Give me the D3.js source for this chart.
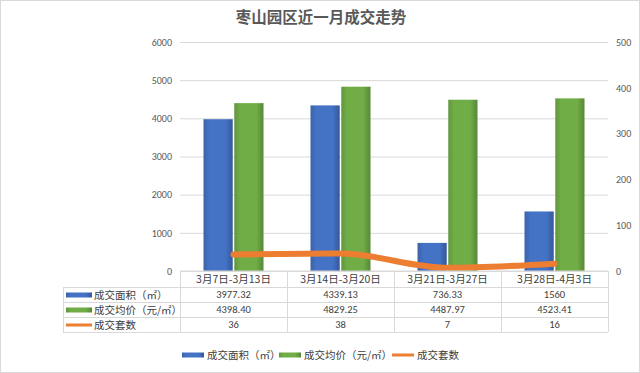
<!DOCTYPE html>
<html>
<head>
<meta charset="utf-8">
<script src="https://cdn.jsdelivr.net/npm/d3@7"></script>
<style>
  body { margin: 0; background: #fff; }
  svg { display: block; font-family: "Microsoft YaHei", "Noto Sans CJK SC", sans-serif; }
</style>
</head>
<body>
<script>
// data
const categories = ["3月7日-3月13日", "3月14日-3月20日", "3月21日-3月27日", "3月28日-4月3日"];
const areaValues = [3977.32, 4339.13, 736.33, 1560];
const areaLabels = ["3977.32", "4339.13", "736.33", "1560"];
const priceValues = [4398.40, 4829.25, 4487.97, 4523.41];
const priceLabels = ["4398.40", "4829.25", "4487.97", "4523.41"];
const countValues = [36, 38, 7, 16];
const seriesNames = ["成交面积（㎡）", "成交均价（元/㎡）", "成交套数"];
const leftTicks = [0, 1000, 2000, 3000, 4000, 5000, 6000];
const rightTicks = [0, 100, 200, 300, 400, 500];

const W = 640, H = 373;
const margin = { top: 42, left: 180, right: 32, bottom: 102 };
const plotW = W - margin.left - margin.right;   // 428
const plotH = H - margin.top - margin.bottom;   // 229

const colors = { blue: "#4472C4", green: "#70AD47", orange: "#ED7D31" };
const numFont = "Calibri, 'Liberation Sans', sans-serif";

const svg = d3.select("body").append("svg").attr("width", W).attr("height", H);

// gradients, bars have a bit of shading on the sides
const defs = svg.append("defs");
function grad(id, c) {
    const g = defs.append("linearGradient").attr("id", id).attr("x1", 0).attr("x2", 1).attr("y1", 0).attr("y2", 0);
    const base = d3.color(c);
    g.append("stop").attr("offset", "0%").attr("stop-color", base.darker(0.4));
    g.append("stop").attr("offset", "20%").attr("stop-color", base);
    g.append("stop").attr("offset", "75%").attr("stop-color", base);
    g.append("stop").attr("offset", "100%").attr("stop-color", base.darker(0.7));
}
grad("gBlue", colors.blue);
grad("gGreen", colors.green);

svg.append("rect").attr("x", 0.5).attr("y", 0.5).attr("width", W - 1).attr("height", H - 1)
    .attr("fill", "#fff").attr("stroke", "#d9d9d9");

svg.append("text").attr("x", 321).attr("y", 23).attr("text-anchor", "middle")
    .attr("font-size", 15.5).attr("font-weight", 600).attr("fill", "#595959")
    .text("枣山园区近一月成交走势");

const x = d3.scaleBand().domain(categories).range([margin.left, margin.left + plotW]);
const xs = d3.scaleBand().domain(["area", "price"]).range([-30, 30]).paddingInner(0.05);
const yL = d3.scaleLinear().domain([0, 6000]).range([margin.top + plotH, margin.top]);
const yR = d3.scaleLinear().domain([0, 500]).range([margin.top + plotH, margin.top]);

// gridlines + left axis
const gl = svg.append("g")
    .attr("transform", `translate(${margin.left},0)`)
    .call(d3.axisLeft(yL).tickValues(leftTicks).tickFormat(d3.format("d")).tickSize(-plotW).tickPadding(8));
gl.select(".domain").remove();
gl.selectAll(".tick line").attr("stroke", "#d9d9d9");
gl.selectAll(".tick text").attr("fill", "#595959").attr("font-size", 10).attr("font-family", numFont);

const gr = svg.append("g")
    .attr("transform", `translate(${margin.left + plotW},0)`)
    .call(d3.axisRight(yR).tickValues(rightTicks).tickFormat(d3.format("d")).tickSize(0).tickPadding(8));
gr.select(".domain").remove();
gr.selectAll(".tick text").attr("fill", "#595959").attr("font-size", 10).attr("font-family", numFont);

// bars
const groups = svg.selectAll(".cat").data(categories).enter().append("g")
    .attr("transform", d => `translate(${x(d) + x.bandwidth() / 2},0)`);
groups.append("rect")
    .attr("x", xs("area")).attr("width", xs.bandwidth())
    .attr("y", (d, i) => yL(areaValues[i]))
    .attr("height", (d, i) => yL(0) - yL(areaValues[i]))
    .attr("fill", "url(#gBlue)");
groups.append("rect")
    .attr("x", xs("price")).attr("width", xs.bandwidth())
    .attr("y", (d, i) => yL(priceValues[i]))
    .attr("height", (d, i) => yL(0) - yL(priceValues[i]))
    .attr("fill", "url(#gGreen)");

// count line
const line = d3.line()
    .x((d, i) => x(categories[i]) + x.bandwidth() / 2)
    .y(d => yR(d))
    .curve(d3.curveMonotoneX);
svg.append("path").datum(countValues).attr("d", line)
    .attr("fill", "none").attr("stroke", colors.orange).attr("stroke-width", 6)
    .attr("stroke-linecap", "round");

// data table
const rowY = [271, 287, 302, 317, 332];
const tableLeft = 63;
const tb = svg.append("g").attr("stroke", "#d9d9d9").attr("fill", "none");
tb.append("line").attr("x1", margin.left).attr("x2", margin.left + plotW).attr("y1", rowY[0]).attr("y2", rowY[0]);
for (let r = 1; r < rowY.length; r++) {
    tb.append("line").attr("x1", tableLeft).attr("x2", margin.left + plotW).attr("y1", rowY[r] + 0.5).attr("y2", rowY[r] + 0.5);
}
tb.append("line").attr("x1", tableLeft + 0.5).attr("x2", tableLeft + 0.5).attr("y1", rowY[1]).attr("y2", rowY[4]);
categories.concat([null]).forEach((c, i) => {
    const xx = c ? x(c) : margin.left + plotW;
    tb.append("line").attr("x1", xx + 0.5).attr("x2", xx + 0.5).attr("y1", rowY[0]).attr("y2", rowY[4]);
});

const txt = svg.append("g").attr("font-size", 10.5).attr("fill", "#404040").attr("text-anchor", "middle");
categories.forEach((c, i) => {
    const cx = x(c) + x.bandwidth() / 2;
    txt.append("text").attr("x", cx).attr("y", 283).text(c);
    txt.append("text").attr("x", cx).attr("y", 298).attr("font-family", numFont).text(areaLabels[i]);
    txt.append("text").attr("x", cx).attr("y", 313).attr("font-family", numFont).text(priceLabels[i]);
    txt.append("text").attr("x", cx).attr("y", 328).attr("font-family", numFont).text(countValues[i]);
});

// series keys
function key(g, type, x0, yc, w) {
    if (type === 2) {
        g.append("line").attr("x1", x0).attr("x2", x0 + w).attr("y1", yc).attr("y2", yc)
            .attr("stroke", colors.orange).attr("stroke-width", 3);
    } else {
        g.append("rect").attr("x", x0).attr("y", yc - 2.5).attr("width", w).attr("height", 5)
            .attr("fill", type === 0 ? "url(#gBlue)" : "url(#gGreen)");
    }
}
const tk = svg.append("g");
seriesNames.forEach((n, i) => {
    const yc = (rowY[i + 1] + rowY[i + 2]) / 2 + 0.5;
    key(tk, i, 66, yc, 26);
    tk.append("text").attr("x", 94).attr("y", yc + 4).attr("font-size", 10.5).attr("fill", "#404040").text(n);
});

// bottom legend
const lg = svg.append("g");
const legX = [182, 279, 392];
seriesNames.forEach((n, i) => {
    key(lg, i, legX[i], 355, 22);
    lg.append("text").attr("x", legX[i] + 25).attr("y", 359).attr("font-size", 10.5).attr("fill", "#404040").text(n);
});
</script>
</body>
</html>
